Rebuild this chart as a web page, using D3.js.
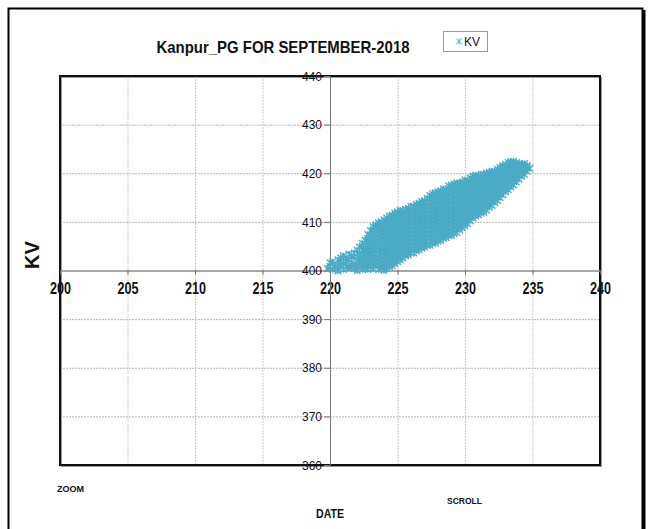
<!DOCTYPE html>
<html>
<head>
<meta charset="utf-8">
<script src="https://cdn.jsdelivr.net/npm/d3@7/dist/d3.min.js"></script>
<style>
  body { margin: 0; background: #fff; }
  svg { display: block; }
  text { font-family: "Liberation Sans", Arial, sans-serif; fill: #111; }
</style>
</head>
<body>
<svg id="chart" width="648" height="529"></svg>
<script>
// ---- chart text ----
const chartTitle = "Kanpur_PG FOR SEPTEMBER-2018";
const seriesName = "KV";
const yAxisTitle = "KV";
const xAxisTitle = "DATE";
const footLeft = "ZOOM";
const footRight = "SCROLL";

// ---- axis ticks ----
const xTicks = [200, 205, 210, 215, 220, 225, 230, 235, 240];
const yTicks = [360, 370, 380, 390, 400, 410, 420, 430, 440];

// ---- readings: 220 kV bus value (x) with the 400 kV bus values logged at it ----
const kv220 = [
  219.8, 220.2, 220.6, 221.0, 221.4, 221.8, 222.2, 222.6, 223.0, 223.4,
  223.8, 224.2, 224.6, 225.0, 225.4, 225.8, 226.2, 226.6, 227.0, 227.4,
  227.8, 228.2, 228.6, 229.0, 229.4, 229.8, 230.2, 230.6, 231.0, 231.4,
  231.8, 232.2, 232.6, 233.0, 233.4, 233.8, 234.2, 234.6, 234.8
];
const kv400 = [
  [400.4],
  [400.2, 401.8],
  [399.9, 400.6, 402.2],
  [400.2, 401.4, 403.0],
  [400.6, 402.2, 403.4],
  [400.4, 401.2, 402.8, 403.6],
  [400.8, 401.6, 402.4, 403.2, 404.8],
  [400.6, 401.4, 402.2, 403.0, 403.8, 404.6, 406.2],
  [400.8, 401.6, 402.4, 403.2, 404.0, 404.8, 405.6, 406.4, 407.2, 408.2],
  [401.0, 401.8, 402.6, 403.4, 404.2, 405.0, 405.8, 406.6, 407.4, 408.2, 409.0, 409.4],
  [400.6, 401.4, 402.2, 403.0, 403.8, 404.6, 405.4, 406.2, 407.0, 407.8, 408.6, 409.4, 410.0],
  [400.4, 401.2, 402.0, 402.8, 403.6, 404.4, 405.2, 406.0, 406.8, 407.6, 408.4, 409.2, 410.0, 410.8],
  [401.0, 401.8, 402.6, 403.4, 404.2, 405.0, 405.8, 406.6, 407.4, 408.2, 409.0, 409.8, 410.6, 411.4],
  [401.8, 402.6, 403.4, 404.2, 405.0, 405.8, 406.6, 407.4, 408.2, 409.0, 409.8, 410.6, 411.4, 412.0],
  [402.6, 403.4, 404.2, 405.0, 405.8, 406.6, 407.4, 408.2, 409.0, 409.8, 410.6, 411.4, 412.2],
  [403.2, 404.0, 404.8, 405.6, 406.4, 407.2, 408.0, 408.8, 409.6, 410.4, 411.2, 412.0, 412.8],
  [403.6, 404.4, 405.2, 406.0, 406.8, 407.6, 408.4, 409.2, 410.0, 410.8, 411.6, 412.4, 413.2],
  [404.2, 405.0, 405.8, 406.6, 407.4, 408.2, 409.0, 409.8, 410.6, 411.4, 412.2, 413.0, 413.8],
  [404.8, 405.6, 406.4, 407.2, 408.0, 408.8, 409.6, 410.4, 411.2, 412.0, 412.8, 413.6, 414.4],
  [405.2, 406.0, 406.8, 407.6, 408.4, 409.2, 410.0, 410.8, 411.6, 412.4, 413.2, 414.0, 414.8, 415.4],
  [405.6, 406.4, 407.2, 408.0, 408.8, 409.6, 410.4, 411.2, 412.0, 412.8, 413.6, 414.4, 415.2, 416.0],
  [406.2, 407.0, 407.8, 408.6, 409.4, 410.2, 411.0, 411.8, 412.6, 413.4, 414.2, 415.0, 415.8, 416.4],
  [406.8, 407.6, 408.4, 409.2, 410.0, 410.8, 411.6, 412.4, 413.2, 414.0, 414.8, 415.6, 416.4],
  [407.2, 408.0, 408.8, 409.6, 410.4, 411.2, 412.0, 412.8, 413.6, 414.4, 415.2, 416.0, 416.8, 417.6],
  [407.8, 408.6, 409.4, 410.2, 411.0, 411.8, 412.6, 413.4, 414.2, 415.0, 415.8, 416.6, 417.4, 418.0],
  [408.8, 409.6, 410.4, 411.2, 412.0, 412.8, 413.6, 414.4, 415.2, 416.0, 416.8, 417.6, 418.2],
  [409.6, 410.4, 411.2, 412.0, 412.8, 413.6, 414.4, 415.2, 416.0, 416.8, 417.6, 418.4],
  [410.8, 411.6, 412.4, 413.2, 414.0, 414.8, 415.6, 416.4, 417.2, 418.0, 418.8, 419.4],
  [411.4, 412.2, 413.0, 413.8, 414.6, 415.4, 416.2, 417.0, 417.8, 418.6, 419.4],
  [412.0, 412.8, 413.6, 414.4, 415.2, 416.0, 416.8, 417.6, 418.4, 419.2, 419.8],
  [413.0, 413.8, 414.6, 415.4, 416.2, 417.0, 417.8, 418.6, 419.4, 420.2],
  [414.0, 414.8, 415.6, 416.4, 417.2, 418.0, 418.8, 419.6, 420.4],
  [415.0, 415.8, 416.6, 417.4, 418.2, 419.0, 419.8, 420.6, 421.2],
  [416.2, 417.0, 417.8, 418.6, 419.4, 420.2, 421.0, 421.8],
  [417.2, 418.0, 418.8, 419.6, 420.4, 421.2, 422.0, 422.4],
  [418.2, 419.0, 419.8, 420.6, 421.4, 422.2],
  [419.4, 420.2, 421.0, 421.8],
  [420.4, 421.2, 421.6],
  [421.0]
];

// readings logged at the in-between 220 kV values
const kv220Mid = [
  220.0, 220.4, 220.8, 221.2, 221.6, 222.0, 222.4, 222.8, 223.2, 223.6,
  224.0, 224.4, 224.8, 225.2, 225.6, 226.0, 226.4, 226.8, 227.2, 227.6,
  228.0, 228.4, 228.8, 229.2, 229.6, 230.0, 230.4, 230.8, 231.2, 231.6,
  232.0, 232.4, 232.8, 233.2, 233.6, 234.0, 234.4
];
const kv400Mid = [
  [400.8, 401.6],
  [400.6, 401.2],
  [401.0, 401.8, 402.6],
  [400.8, 401.8, 402.6],
  [400.8, 401.6, 403.0],
  [400.0, 400.8, 402.0, 403.6, 404.2],
  [400.2, 401.0, 401.8, 402.6, 403.4, 404.2, 405.0, 405.6],
  [400.2, 401.0, 401.8, 402.6, 403.4, 404.2, 405.0, 405.8, 406.6, 407.4],
  [400.4, 401.2, 402.0, 402.8, 403.6, 404.4, 405.2, 406.0, 406.8, 407.6, 408.4, 409.0],
  [400.2, 401.0, 401.8, 402.6, 403.4, 404.2, 405.0, 405.8, 406.6, 407.4, 408.2, 409.0, 409.8],
  [400.0, 400.8, 401.6, 402.4, 403.2, 404.0, 404.8, 405.6, 406.4, 407.2, 408.0, 408.8, 409.6, 410.4],
  [400.8, 401.6, 402.4, 403.2, 404.0, 404.8, 405.6, 406.4, 407.2, 408.0, 408.8, 409.6, 410.4, 411.2],
  [401.4, 402.2, 403.0, 403.8, 404.6, 405.4, 406.2, 407.0, 407.8, 408.6, 409.4, 410.2, 411.0, 411.8],
  [402.2, 403.0, 403.8, 404.6, 405.4, 406.2, 407.0, 407.8, 408.6, 409.4, 410.2, 411.0, 411.8, 412.4],
  [403.0, 403.8, 404.6, 405.4, 406.2, 407.0, 407.8, 408.6, 409.4, 410.2, 411.0, 411.8, 412.6],
  [403.6, 404.4, 405.2, 406.0, 406.8, 407.6, 408.4, 409.2, 410.0, 410.8, 411.6, 412.4, 413.2],
  [404.0, 404.8, 405.6, 406.4, 407.2, 408.0, 408.8, 409.6, 410.4, 411.2, 412.0, 412.8, 413.6],
  [404.6, 405.4, 406.2, 407.0, 407.8, 408.6, 409.4, 410.2, 411.0, 411.8, 412.6, 413.4, 414.2],
  [405.2, 406.0, 406.8, 407.6, 408.4, 409.2, 410.0, 410.8, 411.6, 412.4, 413.2, 414.0, 414.8],
  [405.6, 406.4, 407.2, 408.0, 408.8, 409.6, 410.4, 411.2, 412.0, 412.8, 413.6, 414.4, 415.2, 415.8],
  [406.0, 406.8, 407.6, 408.4, 409.2, 410.0, 410.8, 411.6, 412.4, 413.2, 414.0, 414.8, 415.6, 416.2],
  [406.6, 407.4, 408.2, 409.0, 409.8, 410.6, 411.4, 412.2, 413.0, 413.8, 414.6, 415.4, 416.2, 416.8],
  [407.2, 408.0, 408.8, 409.6, 410.4, 411.2, 412.0, 412.8, 413.6, 414.4, 415.2, 416.0, 416.8, 417.4],
  [407.6, 408.4, 409.2, 410.0, 410.8, 411.6, 412.4, 413.2, 414.0, 414.8, 415.6, 416.4, 417.2, 417.8],
  [408.4, 409.2, 410.0, 410.8, 411.6, 412.4, 413.2, 414.0, 414.8, 415.6, 416.4, 417.2, 418.0],
  [409.2, 410.0, 410.8, 411.6, 412.4, 413.2, 414.0, 414.8, 415.6, 416.4, 417.2, 418.0, 418.6],
  [410.2, 411.0, 411.8, 412.6, 413.4, 414.2, 415.0, 415.8, 416.6, 417.4, 418.2, 419.0],
  [411.2, 412.0, 412.8, 413.6, 414.4, 415.2, 416.0, 416.8, 417.6, 418.4, 419.2, 419.6],
  [411.8, 412.6, 413.4, 414.2, 415.0, 415.8, 416.6, 417.4, 418.2, 419.0, 419.8],
  [412.4, 413.2, 414.0, 414.8, 415.6, 416.4, 417.2, 418.0, 418.8, 419.6, 420.0],
  [413.4, 414.2, 415.0, 415.8, 416.6, 417.4, 418.2, 419.0, 419.8, 420.4],
  [414.4, 415.2, 416.0, 416.8, 417.6, 418.4, 419.2, 420.0, 420.8],
  [415.6, 416.4, 417.2, 418.0, 418.8, 419.6, 420.4, 421.2, 421.6],
  [416.6, 417.4, 418.2, 419.0, 419.8, 420.6, 421.4, 422.2],
  [417.6, 418.4, 419.2, 420.0, 420.8, 421.6, 422.4],
  [418.8, 419.6, 420.4, 421.2, 422.0],
  [419.8, 420.6, 421.4, 422.0]
];

const seriesColor = "#4aabc6";

// flatten the columns into individual readings
const points = [];
kv220.forEach((xv, i) => kv400[i].forEach(yv => points.push({ x: xv, y: yv })));
kv220Mid.forEach((xv, i) => kv400Mid[i].forEach(yv => points.push({ x: xv, y: yv })));

const svg = d3.select("#chart");

// ---- frame ----
const plot = { left: 60, right: 600, top: 76, bottom: 465 };
const x = d3.scaleLinear().domain([200, 240]).range([plot.left, plot.right]);
const y = d3.scaleLinear().domain([360, 440]).range([plot.bottom, plot.top]);

// outer chart border
svg.append("rect")
  .attr("x", 8.5).attr("y", 8.5).attr("width", 634).attr("height", 540)
  .attr("fill", "#fff").attr("stroke", "#000").attr("stroke-width", 2);
svg.append("line")
  .attr("x1", 644).attr("x2", 644).attr("y1", 10).attr("y2", 529)
  .attr("stroke", "#000").attr("stroke-width", 3);

// title
svg.append("text")
  .attr("x", 283).attr("y", 53)
  .attr("text-anchor", "middle")
  .attr("font-size", 16.5).attr("font-weight", "bold")
  .attr("textLength", 253).attr("lengthAdjust", "spacingAndGlyphs")
  .text(chartTitle);

// gridlines
const grid = svg.append("g");
grid.selectAll("line.v").data(xTicks.filter(t => t > 200 && t < 240 && t !== 220))
  .join("line")
  .attr("x1", d => x(d) + 0.5).attr("x2", d => x(d) + 0.5)
  .attr("y1", plot.top).attr("y2", plot.bottom)
  .attr("stroke", "#c8c8c8").attr("stroke-width", 1).attr("stroke-dasharray", "2,1");
grid.selectAll("line.h").data(yTicks.filter(t => t > 360 && t < 440 && t !== 400))
  .join("line")
  .attr("x1", plot.left).attr("x2", plot.right)
  .attr("y1", d => y(d) + 0.5).attr("y2", d => y(d) + 0.5)
  .attr("stroke", "#b4b4b4").attr("stroke-width", 1).attr("stroke-dasharray", "2,1");

// plot area border
svg.append("rect")
  .attr("x", plot.left + 1.5).attr("y", plot.top + 1.5)
  .attr("width", plot.right - plot.left).attr("height", plot.bottom - plot.top)
  .attr("fill", "none").attr("stroke", "#9a9a9a").attr("stroke-width", 1);
svg.append("rect")
  .attr("x", plot.left).attr("y", plot.top)
  .attr("width", plot.right - plot.left).attr("height", plot.bottom - plot.top)
  .attr("fill", "none").attr("stroke", "#111").attr("stroke-width", 2);

// x axis crossing at 400
const xAxis = svg.append("g")
  .attr("transform", `translate(0,${y(400)})`)
  .call(d3.axisBottom(x).tickValues(xTicks).tickSize(4).tickSizeOuter(0).tickFormat(d3.format("d")));
xAxis.select(".domain").attr("stroke", "#8a8a8a").attr("stroke-width", 1.5);
xAxis.selectAll(".tick line").attr("stroke", "#666");
xAxis.selectAll(".tick text")
  .attr("y", 12).attr("dy", "0.71em")
  .attr("font-size", 16).attr("font-weight", "bold").attr("fill", "#111")
  .attr("textLength", 21).attr("lengthAdjust", "spacingAndGlyphs")
  .style("font-family", "'Liberation Sans', Arial, sans-serif");

// y axis crossing at 220
const yAxis = svg.append("g")
  .attr("transform", `translate(${x(220)},0)`)
  .call(d3.axisLeft(y).tickValues(yTicks).tickSize(6).tickSizeOuter(0).tickFormat(d3.format("d")));
yAxis.select(".domain").attr("stroke", "#777").attr("stroke-width", 1);
yAxis.selectAll(".tick line").attr("stroke", "#777");
yAxis.selectAll(".tick text")
  .attr("x", -8).attr("dy", "0.35em")
  .attr("font-size", 12).attr("fill", "#222")
  .style("font-family", "'Liberation Sans', Arial, sans-serif");

// scatter markers (asterisk: x plus vertical stroke)
const r = 3.3;
const star = `M${-r},${-r}L${r},${r}M${-r},${r}L${r},${-r}M0,${-r}L0,${r}`;
svg.append("g")
  .selectAll("path")
  .data(points)
  .join("path")
  .attr("transform", d => `translate(${x(d.x)},${y(d.y)})`)
  .attr("d", star)
  .attr("fill", "none")
  .attr("stroke", seriesColor)
  .attr("stroke-width", 1.4);

// legend
const lg = svg.append("g").attr("transform", "translate(443,31)");
lg.append("rect").attr("x", 0.5).attr("y", 0.5).attr("width", 44).attr("height", 20)
  .attr("fill", "#fff").attr("stroke", "#9a9a9a");
lg.append("path").attr("transform", "translate(16,10.5)")
  .attr("d", `M-3,-3L3,3M-3,3L3,-3M0,-3L0,3`)
  .attr("stroke", seriesColor).attr("stroke-width", 1).attr("fill", "none");
lg.append("text").attr("x", 21).attr("y", 15).attr("font-size", 12).attr("fill", "#222").text(seriesName);

// y axis title
svg.append("text")
  .attr("transform", "translate(39,255) rotate(-90)")
  .attr("text-anchor", "middle")
  .attr("font-size", 20).attr("font-weight", "bold")
  .text(yAxisTitle);

// footer labels
svg.append("text").attr("x", 57).attr("y", 492)
  .attr("font-size", 9.5).attr("font-weight", "bold")
  .attr("textLength", 27).attr("lengthAdjust", "spacingAndGlyphs").text(footLeft);
svg.append("text").attr("x", 447).attr("y", 504)
  .attr("font-size", 9.5).attr("font-weight", "bold")
  .attr("textLength", 35).attr("lengthAdjust", "spacingAndGlyphs").text(footRight);
svg.append("text").attr("x", 330).attr("y", 518)
  .attr("text-anchor", "middle")
  .attr("font-size", 12).attr("font-weight", "bold")
  .attr("textLength", 28).attr("lengthAdjust", "spacingAndGlyphs").text(xAxisTitle);
</script>
</body>
</html>
